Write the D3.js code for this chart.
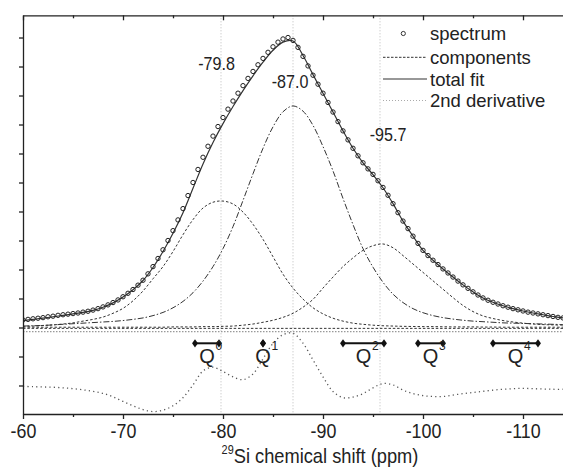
<!DOCTYPE html>
<html><head><meta charset="utf-8">
<script src="https://cdn.jsdelivr.net/npm/d3@7"></script>
<style>
html,body{margin:0;padding:0;background:#fff;}
svg{display:block;}
text{font-family:"Liberation Sans",Arial,Helvetica,sans-serif;fill:#222;}
</style></head><body>
<svg id="c" width="563" height="467"></svg>
<script>
// ---------- data ----------
const specPpm = [-60,-60.5,-61,-61.5,-62,-62.5,-63,-63.5,-64,-64.5,-65,-65.5,-66,-66.5,-67,-67.5,-68,-68.5,-69,-69.5,
 -70,-70.5,-71,-71.5,-72,-72.5,-73,-73.5,-74,-74.5,-75,-75.5,-76,-76.5,-77,-77.5,-78,-78.5,-79,-79.5,
 -80,-80.5,-81,-81.5,-82,-82.5,-83,-83.5,-84,-84.5,-85,-85.5,-86,-86.5,-87,-87.5,-88,-88.5,-89,-89.5,
 -90,-90.5,-91,-91.5,-92,-92.5,-93,-93.5,-94,-94.5,-95,-95.5,-96,-96.5,-97,-97.5,-98,-98.5,-99,-99.5,
 -100,-100.5,-101,-101.5,-102,-102.5,-103,-103.5,-104,-104.5,-105,-105.5,-106,-106.5,-107,-107.5,-108,-108.5,-109,-109.5,
 -110,-110.5,-111,-111.5,-112,-112.5,-113,-113.5,-114];
const spectrum = [0.26,0.28,0.30,0.32,0.34,0.37,0.39,0.42,0.44,0.46,0.48,0.50,0.53,0.56,0.60,0.65,0.71,0.78,0.86,0.95,
 1.06,1.18,1.31,1.46,1.63,1.85,2.10,2.38,2.68,3.00,3.34,3.71,4.10,4.55,5.00,5.45,5.87,6.25,6.60,6.93,
 7.24,7.53,7.81,8.08,8.34,8.59,8.83,9.06,9.28,9.49,9.68,9.84,9.95,10.00,9.90,9.66,9.35,9.02,8.70,8.39,
 8.08,7.76,7.43,7.10,6.78,6.47,6.18,5.92,5.68,5.47,5.28,5.06,4.83,4.56,4.27,3.96,3.67,3.41,3.15,2.90,
 2.66,2.48,2.32,2.17,2.02,1.88,1.74,1.60,1.47,1.35,1.23,1.12,1.02,0.94,0.87,0.81,0.75,0.70,0.65,0.61,
 0.57,0.53,0.50,0.47,0.44,0.41,0.38,0.35,0.33];

const ppm = [-60,-61,-62,-63,-64,-65,-66,-67,-68,-69,-70,-71,-72,-73,-74,-75,-76,-77,-78,-79,
 -80,-81,-82,-83,-84,-85,-86,-87,-88,-89,-90,-91,-92,-93,-94,-95,-96,-97,-98,-99,
 -100,-101,-102,-103,-104,-105,-106,-107,-108,-109,-110,-111,-112,-113,-114];
const totalFit = [0.24,0.28,0.32,0.37,0.42,0.47,0.52,0.59,0.70,0.85,1.05,1.30,1.62,2.07,2.62,3.25,3.96,4.80,5.64,6.38,
 7.03,7.62,8.17,8.68,9.15,9.56,9.84,9.88,9.38,8.72,8.08,7.43,6.78,6.18,5.68,5.27,4.82,4.27,3.67,3.15,
 2.66,2.32,2.02,1.74,1.47,1.23,1.02,0.87,0.75,0.65,0.57,0.50,0.44,0.38,0.33];
const comp1 = [0.04,0.05,0.07,0.09,0.12,0.16,0.22,0.28,0.36,0.49,0.66,0.92,1.26,1.68,2.10,2.62,3.20,3.72,4.12,4.32,
 4.36,4.26,3.98,3.56,3.04,2.44,1.84,1.36,0.98,0.68,0.47,0.32,0.22,0.15,0.11,0.08,0.06,0.05,0.04,0.035,
 0.03,0.03,0.025,0.02,0.02,0.02,0.015,0.015,0.01,0.01,0.01,0.01,0.01,0.01,0.01];
const comp2 = [0.05,0.06,0.07,0.09,0.11,0.13,0.15,0.17,0.19,0.21,0.24,0.28,0.33,0.41,0.52,0.68,0.90,1.20,1.60,2.10,
 2.72,3.48,4.38,5.30,6.18,6.92,7.44,7.64,7.46,6.97,6.24,5.40,4.45,3.55,2.72,2.08,1.56,1.15,0.86,0.65,
 0.51,0.41,0.34,0.29,0.25,0.22,0.20,0.18,0.16,0.15,0.14,0.13,0.12,0.11,0.10];
const comp3 = [0.01,0.01,0.01,0.01,0.01,0.01,0.01,0.01,0.01,0.01,0.01,0.01,0.01,0.01,0.01,0.02,0.02,0.02,0.03,0.03,
 0.04,0.05,0.08,0.12,0.18,0.25,0.35,0.49,0.70,0.97,1.36,1.74,2.10,2.40,2.66,2.82,2.88,2.75,2.48,2.19,
 1.90,1.61,1.32,1.03,0.76,0.55,0.40,0.31,0.24,0.19,0.15,0.12,0.10,0.09,0.08];
const deriv2 = [-2.03,-2.04,-2.05,-2.06,-2.08,-2.11,-2.15,-2.20,-2.27,-2.39,-2.55,-2.70,-2.83,-2.90,-2.85,-2.70,-2.42,-1.98,-1.50,-1.37,
 -1.52,-1.70,-1.80,-1.60,-1.08,-0.55,-0.25,-0.20,-0.54,-1.12,-1.70,-2.21,-2.42,-2.40,-2.28,-2.08,-1.93,-1.98,-2.16,-2.28,
 -2.35,-2.38,-2.38,-2.33,-2.28,-2.24,-2.20,-2.16,-2.13,-2.11,-2.10,-2.11,-2.12,-2.13,-2.13];
const baseLevel = -0.03;      // flat component baseline
const derivZero = -0.145;     // zero line of the 2nd derivative
const peakPositions = [-79.8, -87.0, -95.7];
const qNames = ["0","1","2","3","4"];
const qFrom = [-77.2, -84.0, -92.0, -99.5, -107.0];
const qTo   = [-79.6, -84.0, -96.1, -102.0, -111.5];
const qLevel = -0.545;
const xMajor = [-60,-70,-80,-90,-100,-110];
const xMinor = [-65,-75,-85,-95,-105];
const yTicks = [-2,-1,0,1,2,3,4,5,6,7,8,9,10];
const legendNames = ["spectrum","components","total fit","2nd derivative"];

// ---------- layout ----------
const svg = d3.select("#c");
const L = 23, R = 563, T = 15.3, B = 414;
const x = d3.scaleLinear().domain([-60, -114]).range([L, R]);
const y = d3.scaleLinear().domain([-2.983, 10.766]).range([B, T]);

svg.append("defs").append("clipPath").attr("id","clip")
  .append("rect").attr("x",L).attr("y",T).attr("width",R-L+5).attr("height",B-T);
const plot = svg.append("g").attr("clip-path","url(#clip)");

// vertical reference lines
plot.selectAll("line.vref").data(peakPositions).enter().append("line")
  .attr("x1",d=>x(d)).attr("x2",d=>x(d)).attr("y1",T).attr("y2",B)
  .attr("stroke","#bbb").attr("stroke-width",1).attr("stroke-dasharray","1,2");

// baselines
plot.append("line").attr("x1",L).attr("x2",R+5).attr("y1",y(derivZero)).attr("y2",y(derivZero))
  .attr("stroke","#999").attr("stroke-width",1.2).attr("stroke-dasharray","1.5,1.5");
plot.append("line").attr("x1",L).attr("x2",R+5).attr("y1",y(baseLevel)).attr("y2",y(baseLevel))
  .attr("stroke","#333").attr("stroke-width",1).attr("stroke-dasharray","2.5,1.8");

const line = arr => d3.line().x((d,i)=>x(ppm[i])).y(d=>y(d)).curve(d3.curveCatmullRom.alpha(0.5))(arr);

plot.append("path").attr("d",line(comp1)).attr("fill","none").attr("stroke","#333")
  .attr("stroke-width",1).attr("stroke-dasharray","2.5,2");
plot.append("path").attr("d",line(comp3)).attr("fill","none").attr("stroke","#333")
  .attr("stroke-width",1).attr("stroke-dasharray","2.5,2");
plot.append("path").attr("d",line(comp2)).attr("fill","none").attr("stroke","#333")
  .attr("stroke-width",1).attr("stroke-dasharray","6,2,1.5,2");
plot.append("path").attr("d",line(deriv2)).attr("fill","none").attr("stroke","#555")
  .attr("stroke-width",1.3).attr("stroke-dasharray","1.2,3.2");
plot.append("path").attr("d",line(totalFit)).attr("fill","none").attr("stroke","#333")
  .attr("stroke-width",1.2);

plot.selectAll("circle.sp").data(spectrum).enter().append("circle")
  .attr("cx",(d,i)=>x(specPpm[i])).attr("cy",d=>y(d)).attr("r",2.2)
  .attr("fill","none").attr("stroke","#222").attr("stroke-width",1);

// Q ranges
const qg = svg.append("g");
qNames.forEach((n,i)=>{
  const x1 = x(qFrom[i]), x2 = x(qTo[i]), yy = y(qLevel), cx = (x1+x2)/2;
  if (x1 !== x2) qg.append("line").attr("x1",x1).attr("x2",x2).attr("y1",yy).attr("y2",yy)
      .attr("stroke","#111").attr("stroke-width",2);
  [x1,x2].forEach(px=>qg.append("path").attr("d",d3.symbol(d3.symbolDiamond,30)())
      .attr("transform",`translate(${px},${yy}) scale(1,0.8)`).attr("fill","#111"));
  qg.append("text").attr("x",cx).attr("y",363).attr("text-anchor","middle")
    .attr("font-size",20).text("Q");
  qg.append("text").attr("x",cx+8.5).attr("y",350).attr("font-size",12).text(n);
});

// peak labels
const peakLabelPos = [[216.5,70],[290,88],[388,141]];
peakPositions.forEach((p,i)=>{
  svg.append("text").attr("transform",`translate(${peakLabelPos[i][0]},${peakLabelPos[i][1]}) scale(0.92,1)`)
    .attr("text-anchor","middle").attr("font-size",17.5).text(p.toFixed(1));
});

// axes
const axStyle = g => { g.selectAll("path,line").attr("stroke","#222").attr("stroke-width",1.3); };
svg.append("g").attr("transform",`translate(0,${B})`)
  .call(d3.axisBottom(x).tickValues(xMajor).tickSize(5).tickSizeOuter(0).tickFormat(d=>String(d)))
  .call(axStyle)
  .call(g=>g.selectAll("text").attr("y",24.5).attr("dy",0).attr("font-size",21)
      .attr("transform","scale(0.85,1)").attr("fill","#222").attr("font-family",null));
svg.append("g").attr("transform",`translate(0,${B})`)
  .call(d3.axisBottom(x).tickValues(xMinor).tickSize(3).tickSizeOuter(0).tickFormat(""))
  .call(axStyle).call(g=>g.select(".domain").remove());
svg.append("g").attr("transform",`translate(0,${T})`)
  .call(d3.axisTop(x).tickValues(xMajor).tickSize(-5).tickSizeOuter(0).tickFormat(""))
  .call(axStyle);
svg.append("g").attr("transform",`translate(0,${T})`)
  .call(d3.axisTop(x).tickValues(xMinor).tickSize(-3).tickSizeOuter(0).tickFormat(""))
  .call(axStyle).call(g=>g.select(".domain").remove());
svg.append("g").attr("transform",`translate(${L},0)`)
  .call(d3.axisLeft(y).tickValues(yTicks).tickSize(4).tickSizeOuter(0).tickFormat(""))
  .call(axStyle);

// axis title
const tt = svg.append("text").attr("transform","translate(320,463) scale(0.87,1)")
  .attr("text-anchor","middle").attr("font-size",21);
tt.append("tspan").attr("font-size",12.5).attr("dy",-9).text("29");
tt.append("tspan").attr("dy",9).text("Si chemical shift (ppm)");

// legend
const lg = svg.append("g");
const rowsY = [33.5, 57.3, 79, 100.5];
lg.append("circle").attr("cx",403.3).attr("cy",rowsY[0]).attr("r",2.1)
  .attr("fill","none").attr("stroke","#222").attr("stroke-width",0.9);
lg.append("line").attr("x1",383).attr("x2",427).attr("y1",rowsY[1]).attr("y2",rowsY[1])
  .attr("stroke","#333").attr("stroke-dasharray","2.5,1.5");
lg.append("line").attr("x1",383).attr("x2",427).attr("y1",rowsY[2]).attr("y2",rowsY[2])
  .attr("stroke","#333").attr("stroke-width",1.2);
lg.append("line").attr("x1",383).attr("x2",427).attr("y1",rowsY[3]).attr("y2",rowsY[3])
  .attr("stroke","#aaa").attr("stroke-dasharray","1,2");
legendNames.forEach((n,i)=>{
  lg.append("text").attr("x",430).attr("y",rowsY[i]+6.5).attr("font-size",18.5).text(n);
});
</script>
</body></html>
